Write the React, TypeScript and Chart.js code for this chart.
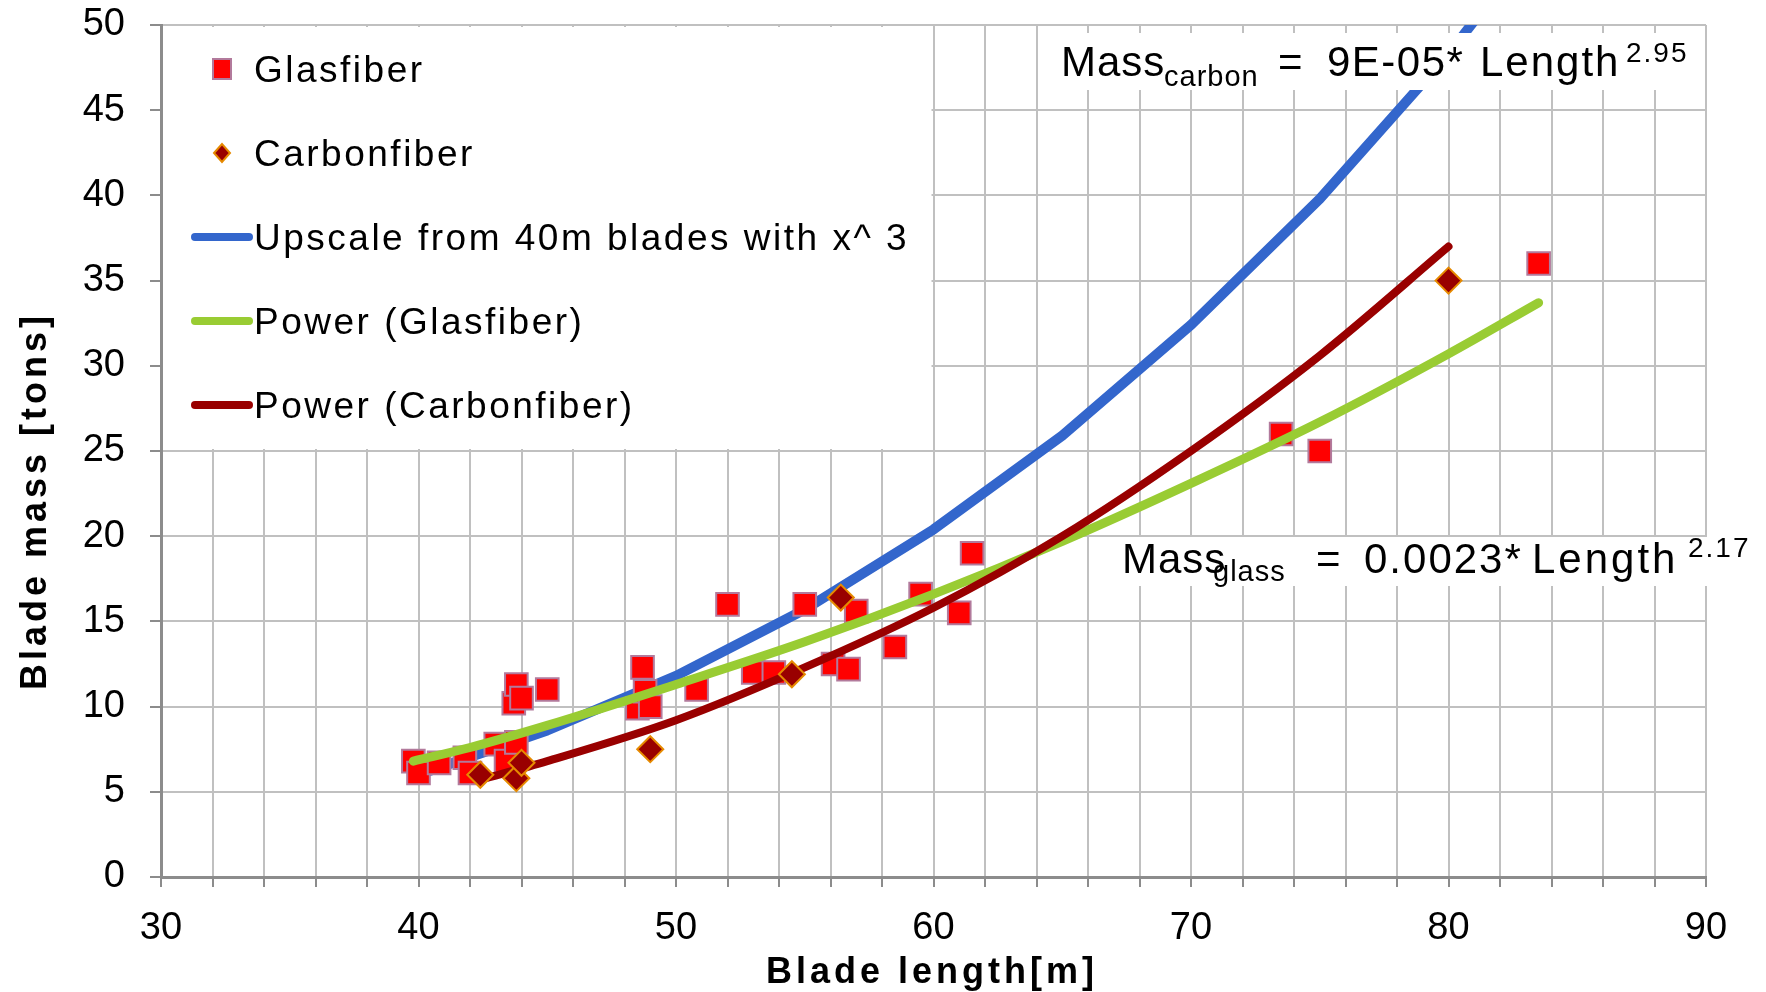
import React, { useEffect, useRef } from "react";
import { Chart, registerables } from "chart.js";

Chart.register(...registerables);

// ---------- data ----------
const glassLength = [39.8, 40.0, 40.8, 41.8, 42.0, 43.0, 43.4, 43.8, 43.7, 43.8, 44.0, 45.0, 48.5, 48.7, 48.8, 49.0, 50.8, 52.0, 53.0, 53.8, 55.0, 56.1, 56.7, 57.0, 58.5, 59.5, 61.0, 61.5, 73.5, 75.0, 83.5];
const glassMass = [6.8, 6.1, 6.7, 7.0, 6.1, 7.8, 6.8, 7.9, 10.2, 11.3, 10.5, 11.0, 9.9, 12.3, 10.9, 10.0, 11.0, 16.0, 12.0, 12.0, 16.0, 12.5, 12.2, 15.6, 13.5, 16.6, 15.5, 19.0, 26.0, 25.0, 36.0];

const carbonLength = [42.4, 43.8, 44.0, 49.0, 54.5, 56.4, 80.0];
const carbonMass = [6.0, 5.8, 6.7, 7.5, 11.9, 16.4, 35.0];

const upscaleLength = [40, 45, 50, 55, 60, 65, 70, 75, 80, 85];
const upscaleMass = [6.0, 8.6, 11.8, 15.7, 20.4, 25.9, 32.4, 39.8, 48.3, 58.0];

const powerGlassLength = [39.8, 42, 45, 50, 55, 60, 65, 70, 75, 80, 83.5];
const powerGlassMass = [6.8, 7.6, 8.9, 11.3, 13.8, 16.6, 19.7, 23.1, 26.7, 30.7, 33.7];

const powerCarbonLength = [42.4, 45, 50, 55, 60, 65, 70, 75, 80];
const powerCarbonMass = [5.7, 6.8, 9.2, 12.3, 15.8, 20.0, 25.0, 30.6, 37.0];

const legendLabels = ["Glasfiber", "Carbonfiber", "Upscale from 40m blades with x^ 3", "Power (Glasfiber)", "Power (Carbonfiber)"];

const xTitle = "Blade length[m]";
const yTitle = "Blade mass [tons]";

const FONT = "'Liberation Sans', Arial, Helvetica, sans-serif";

const COLORS = {
  glassFill: "#FF0000",
  glassBorder: "#B27A9C",
  carbonFill: "#990000",
  carbonBorder: "#E68A00",
  upscale: "#3366CC",
  powerGlass: "#99CC33",
  powerCarbon: "#990000",
  grid: "#C0C0C0",
  axis: "#8C8C8C",
};

const pts = (xs: number[], ys: number[]) => xs.map((x, i) => ({ x, y: ys[i] }));

function drawSpaced(ctx: CanvasRenderingContext2D, text: string, x: number, y: number, font: string, spacing: number, align: CanvasTextAlign = "left") {
  ctx.font = font;
  (ctx as any).letterSpacing = spacing + "px";
  ctx.textAlign = align;
  ctx.textBaseline = "alphabetic";
  ctx.fillText(text, x, y);
  (ctx as any).letterSpacing = "0px";
}

const overlayPlugin = {
  id: "overlay",
  afterDraw(chart: any) {
    const ctx: CanvasRenderingContext2D = chart.ctx;
    const xs = chart.scales.x;
    const ys = chart.scales.y;
    const { left, top } = chart.chartArea;
    ctx.save();

    // ---- legend box ----
    const legRight = xs.getPixelForValue(60) - 2;
    const legBottom = ys.getPixelForValue(25) - 2;
    ctx.fillStyle = "#FFFFFF";
    ctx.fillRect(left + 2, top + 2, legRight - left - 2, legBottom - top - 2);

    const markX = left + 61;
    const textX = left + 93;
    legendLabels.forEach((label, i) => {
      const cy = top + 44 + i * 84;
      if (i === 0) {
        ctx.fillStyle = COLORS.glassFill;
        ctx.strokeStyle = COLORS.glassBorder;
        ctx.lineWidth = 2;
        ctx.fillRect(markX - 9, cy - 10, 18, 20);
        ctx.strokeRect(markX - 9, cy - 10, 18, 20);
      } else if (i === 1) {
        ctx.beginPath();
        ctx.moveTo(markX - 8, cy);
        ctx.lineTo(markX, cy - 9);
        ctx.lineTo(markX + 8, cy);
        ctx.lineTo(markX, cy + 9);
        ctx.closePath();
        ctx.fillStyle = COLORS.carbonFill;
        ctx.fill();
        ctx.strokeStyle = COLORS.carbonBorder;
        ctx.lineWidth = 2;
        ctx.stroke();
      } else {
        const col = i === 2 ? COLORS.upscale : i === 3 ? COLORS.powerGlass : COLORS.powerCarbon;
        ctx.beginPath();
        ctx.moveTo(markX - 27, cy);
        ctx.lineTo(markX + 27, cy);
        ctx.strokeStyle = col;
        ctx.lineWidth = 8;
        ctx.lineCap = "round";
        ctx.stroke();
      }
      ctx.fillStyle = "#000";
      drawSpaced(ctx, label, textX, cy + 13, `37px ${FONT}`, 2.5);
    });

    // ---- equation: carbon ----
    ctx.fillStyle = "#FFFFFF";
    ctx.fillRect(1048, 33, 652, 57);
    ctx.fillStyle = "#000";
    drawSpaced(ctx, "Mass", 1061, 76, `42px ${FONT}`, 1);
    drawSpaced(ctx, "carbon", 1164, 86, `29px ${FONT}`, 1);
    drawSpaced(ctx, "=", 1278, 76, `42px ${FONT}`, 1);
    drawSpaced(ctx, "9E-05*", 1327, 76, `42px ${FONT}`, 1.5);
    drawSpaced(ctx, "Length", 1480, 76, `42px ${FONT}`, 2);
    drawSpaced(ctx, "2.95", 1626, 62, `28px ${FONT}`, 2);

    // ---- equation: glass ----
    ctx.fillStyle = "#FFFFFF";
    ctx.fillRect(1089, 537, 677, 49);
    ctx.fillStyle = "#000";
    drawSpaced(ctx, "Mass", 1122, 573, `42px ${FONT}`, 1);
    drawSpaced(ctx, "glass", 1213, 581, `29px ${FONT}`, 1);
    drawSpaced(ctx, "=", 1316, 573, `42px ${FONT}`, 1);
    drawSpaced(ctx, "0.0023*", 1364, 573, `42px ${FONT}`, 2);
    drawSpaced(ctx, "Length", 1532, 573, `42px ${FONT}`, 3);
    drawSpaced(ctx, "2.17", 1688, 557, `28px ${FONT}`, 2);

    // ---- axis titles ----
    ctx.fillStyle = "#000";
    drawSpaced(ctx, xTitle, 932, 983, `bold 36px ${FONT}`, 4, "center");
    ctx.translate(46, 501);
    ctx.rotate(-Math.PI / 2);
    drawSpaced(ctx, yTitle, 0, 0, `bold 36px ${FONT}`, 4, "center");
    ctx.restore();
  },
};

export default function App() {
  const ref = useRef<HTMLCanvasElement | null>(null);

  useEffect(() => {
    document.body.style.margin = "0";
    const canvas = ref.current;
    if (!canvas) return;
    const chart = new Chart(canvas, {
      type: "scatter",
      data: {
        datasets: [
          {
            label: legendLabels[0],
            data: pts(glassLength, glassMass),
            pointStyle: "rect",
            pointRadius: 16,
            pointBackgroundColor: COLORS.glassFill,
            pointBorderColor: COLORS.glassBorder,
            pointBorderWidth: 2,
            showLine: false,
            order: 4,
          },
          {
            label: legendLabels[1],
            data: pts(carbonLength, carbonMass),
            pointStyle: "rectRot",
            pointRadius: 13,
            pointBackgroundColor: COLORS.carbonFill,
            pointBorderColor: COLORS.carbonBorder,
            pointBorderWidth: 2,
            showLine: false,
            order: 1,
          },
          {
            label: legendLabels[2],
            data: pts(upscaleLength, upscaleMass),
            showLine: true,
            borderColor: COLORS.upscale,
            borderWidth: 10,
            pointRadius: 0,
            tension: 0,
            borderCapStyle: "round",
            borderJoinStyle: "round",
            order: 5,
          },
          {
            label: legendLabels[3],
            data: pts(powerGlassLength, powerGlassMass),
            showLine: true,
            borderColor: COLORS.powerGlass,
            borderWidth: 9,
            pointRadius: 0,
            cubicInterpolationMode: "monotone",
            borderCapStyle: "round",
            borderJoinStyle: "round",
            order: 3,
          },
          {
            label: legendLabels[4],
            data: pts(powerCarbonLength, powerCarbonMass),
            showLine: true,
            borderColor: COLORS.powerCarbon,
            borderWidth: 8,
            pointRadius: 0,
            cubicInterpolationMode: "monotone",
            borderCapStyle: "round",
            borderJoinStyle: "round",
            order: 2,
          },
        ],
      } as any,
      options: {
        responsive: false,
        maintainAspectRatio: false,
        animation: false,
        devicePixelRatio: 1,
        layout: { padding: { top: 25, right: 60, left: 0, bottom: 0 } },
        plugins: {
          legend: { display: false },
          tooltip: { enabled: false },
          title: { display: false },
        },
        scales: {
          x: {
            type: "linear",
            min: 30,
            max: 90,
            afterFit: (s: any) => {
              s.height = 115;
              s.paddingLeft = 0;
              s.paddingRight = 0;
            },
            ticks: {
              stepSize: 2,
              autoSkip: false,
              maxRotation: 0,
              minRotation: 0,
              padding: 19,
              color: "#000",
              font: { family: FONT, size: 38 },
              callback: (v: any) => (Number(v) % 10 === 0 ? String(v) : ""),
            },
            grid: {
              color: COLORS.grid,
              lineWidth: 2,
              tickLength: 10,
              tickColor: COLORS.axis,
            },
            border: { color: COLORS.axis, width: 3 },
            title: { display: false },
          },
          y: {
            type: "linear",
            min: 0,
            max: 50,
            afterFit: (s: any) => {
              s.width = 161;
              s.paddingTop = 0;
              s.paddingBottom = 0;
            },
            ticks: {
              stepSize: 5,
              autoSkip: false,
              padding: 25,
              color: "#000",
              font: { family: FONT, size: 38 },
            },
            grid: {
              color: COLORS.grid,
              lineWidth: 2,
              tickLength: 11,
              tickColor: COLORS.axis,
            },
            border: { color: COLORS.axis, width: 3 },
            title: { display: false },
          },
        },
      } as any,
      plugins: [overlayPlugin],
    });
    return () => chart.destroy();
  }, []);

  return (
    <div style={{ position: "absolute", left: 0, top: 0, width: 1766, height: 992, background: "#fff" }}>
      <canvas ref={ref} width={1766} height={992} style={{ display: "block" }} />
    </div>
  );
}
